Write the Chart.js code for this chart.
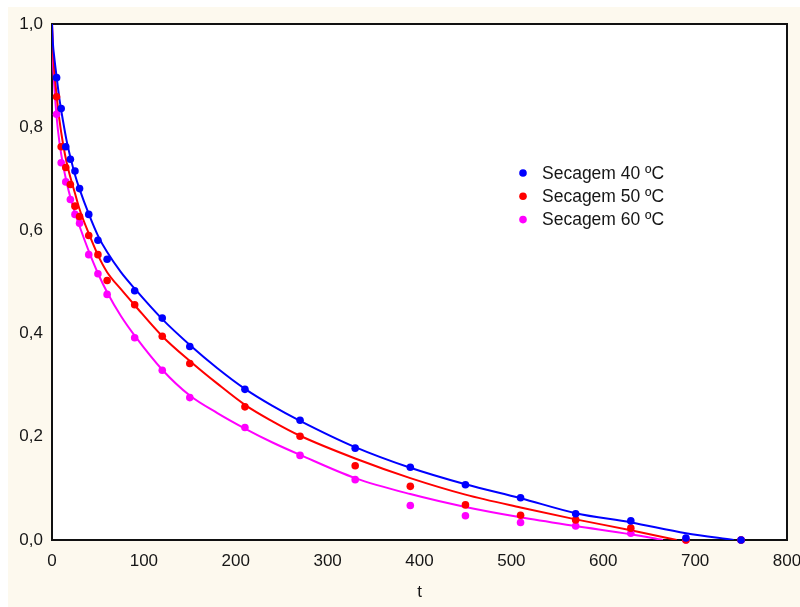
<!DOCTYPE html>
<html>
<head>
<meta charset="utf-8">
<script src="https://cdn.jsdelivr.net/npm/chart.js@4.4.1/dist/chart.umd.min.js"></script>
<style>
  html, body { margin: 0; padding: 0; background: #ffffff; }
  #wrap { width: 800px; height: 607px; }
</style>
</head>
<body>
<div id="wrap"><canvas id="c" width="800" height="607"></canvas></div>
<script>
// Drying time (t) and moisture ratio for each drying temperature
const times = [5, 10, 15, 20, 25, 30, 40, 50, 60, 90, 120, 150, 210, 270, 330, 390, 450, 510, 570, 630, 690, 750];
const mr40 = [0.896, 0.836, 0.762, 0.738, 0.715, 0.681, 0.631, 0.581, 0.544, 0.483, 0.430, 0.375, 0.292, 0.232, 0.178, 0.141, 0.107, 0.082, 0.051, 0.037, 0.004, 0.000];
const mr50 = [0.859, 0.762, 0.722, 0.689, 0.647, 0.627, 0.590, 0.553, 0.503, 0.456, 0.395, 0.342, 0.258, 0.201, 0.144, 0.104, 0.068, 0.048, 0.039, 0.023, 0.000, 0.000];
const mr60 = [0.825, 0.731, 0.694, 0.660, 0.631, 0.614, 0.553, 0.516, 0.476, 0.392, 0.329, 0.276, 0.218, 0.164, 0.117, 0.067, 0.047, 0.034, 0.027, 0.013, 0.000, 0.000];

// Fitted model curves
const fit40T = [0, 1, 2.5, 5, 8, 12, 16, 20, 25, 30, 40, 50, 60, 75, 90, 120, 150, 180, 210, 240, 270, 330, 390, 450, 510, 570, 630, 690, 742];
const fit40Y = [1.0, 0.962, 0.935, 0.898, 0.856, 0.812, 0.773, 0.742, 0.708, 0.680, 0.632, 0.590, 0.558, 0.519, 0.487, 0.428, 0.378, 0.333, 0.293, 0.260, 0.231, 0.180, 0.140, 0.108, 0.081, 0.052, 0.034, 0.013, 0.0];
const fit50T = [0, 1, 2.5, 5, 8, 12, 16, 20, 25, 30, 40, 50, 60, 75, 90, 120, 150, 180, 210, 240, 270, 330, 390, 450, 510, 570, 630, 680];
const fit50Y = [1.0, 0.950, 0.910, 0.862, 0.815, 0.768, 0.731, 0.703, 0.672, 0.641, 0.594, 0.552, 0.519, 0.486, 0.455, 0.395, 0.347, 0.303, 0.262, 0.230, 0.202, 0.158, 0.120, 0.088, 0.063, 0.040, 0.019, 0.0];
const fit60T = [0, 1, 2.5, 5, 8, 12, 16, 20, 25, 30, 40, 50, 60, 75, 90, 120, 150, 180, 210, 240, 270, 330, 390, 450, 510, 570, 630, 665];
const fit60Y = [1.0, 0.930, 0.880, 0.820, 0.772, 0.727, 0.693, 0.664, 0.634, 0.608, 0.560, 0.517, 0.480, 0.434, 0.396, 0.330, 0.280, 0.246, 0.216, 0.189, 0.165, 0.120, 0.089, 0.064, 0.044, 0.027, 0.011, 0.0];

const seriesLabels = ['Secagem 40 ºC', 'Secagem 50 ºC', 'Secagem 60 ºC'];
const seriesColors = ['#0000ff', '#ff0000', '#ff00ff'];
const xTicks = [0, 100, 200, 300, 400, 500, 600, 700, 800];
const yTicks = [0.0, 0.2, 0.4, 0.6, 0.8, 1.0];
const xTitle = 't';

const FONT = '"Liberation Sans", Arial, sans-serif';
const TEXT = '#161616';

const pts = (xs, ys) => xs.map((x, i) => ({ x: x, y: ys[i] }));

function pointSet(label, ys, color, order) {
  return {
    label: label, data: pts(times, ys), showLine: false,
    pointRadius: 3.8, pointHoverRadius: 3.8, pointBorderWidth: 0,
    backgroundColor: color, borderColor: color, clip: false, order: order,
    isMarker: true
  };
}
function curveSet(xs, ys, color, order) {
  return {
    label: '', data: pts(xs, ys), showLine: true, pointRadius: 0, pointHoverRadius: 0,
    borderColor: color, backgroundColor: color, borderWidth: 2,
    cubicInterpolationMode: 'monotone', order: order, isMarker: false
  };
}

// Page panel, plot frame and legend
const framePlugin = {
  id: 'frame',
  beforeDraw(chart) {
    const ctx = chart.ctx, a = chart.chartArea;
    ctx.save();
    ctx.fillStyle = '#ffffff';
    ctx.fillRect(0, 0, chart.width, chart.height);
    ctx.fillStyle = '#fdf9ee';
    ctx.fillRect(8, 7, chart.width - 8, chart.height - 7);
    ctx.fillStyle = '#ffffff';
    ctx.fillRect(a.left, a.top, a.right - a.left, a.bottom - a.top);
    ctx.restore();
  },
  beforeDatasetsDraw(chart) {
    const ctx = chart.ctx, a = chart.chartArea;
    ctx.save();
    ctx.strokeStyle = '#111111';
    ctx.lineWidth = 2;
    ctx.strokeRect(a.left, a.top, a.right - a.left, a.bottom - a.top);
    ctx.restore();
  },
  afterDraw(chart) {
    const ctx = chart.ctx;
    const items = chart.data.datasets.filter(d => d.isMarker).reverse();
    ctx.save();
    ctx.font = '17.5px ' + FONT;
    ctx.textBaseline = 'middle';
    ctx.textAlign = 'left';
    items.forEach((d, i) => {
      const y = 173 + i * 23.3;
      ctx.fillStyle = d.backgroundColor;
      ctx.beginPath();
      ctx.arc(523, y, 3.8, 0, Math.PI * 2);
      ctx.fill();
      ctx.fillStyle = TEXT;
      ctx.fillText(d.label, 542, y + 1);
    });
    ctx.restore();
  }
};

new Chart(document.getElementById('c'), {
  type: 'scatter',
  data: {
    datasets: [
      curveSet(fit60T, fit60Y, seriesColors[2], 6),
      curveSet(fit50T, fit50Y, seriesColors[1], 5),
      curveSet(fit40T, fit40Y, seriesColors[0], 4),
      pointSet(seriesLabels[2], mr60, seriesColors[2], 3),
      pointSet(seriesLabels[1], mr50, seriesColors[1], 2),
      pointSet(seriesLabels[0], mr40, seriesColors[0], 1)
    ]
  },
  options: {
    responsive: false,
    animation: false,
    events: [],
    layout: { padding: { top: 24, right: 0, left: 0, bottom: 0 } },
    plugins: { legend: { display: false }, tooltip: { enabled: false } },
    scales: {
      x: {
        type: 'linear', min: 0, max: 800,
        afterBuildTicks(s) { s.ticks = xTicks.map(v => ({ value: v })); },
        afterFit(s) { s.height = 67; s.paddingLeft = 0; s.paddingRight = 13; },
        grid: { display: false, drawTicks: false },
        border: { display: false },
        ticks: { padding: 11, color: TEXT, font: { family: FONT, size: 17 }, maxRotation: 0 },
        title: { display: true, text: xTitle, color: TEXT, font: { family: FONT, size: 17 }, padding: { top: 0, bottom: 4 } }
      },
      y: {
        type: 'linear', min: 0, max: 1,
        afterBuildTicks(s) { s.ticks = yTicks.map(v => ({ value: v })); },
        afterFit(s) { s.width = 52; s.paddingTop = 0; s.paddingBottom = 0; },
        grid: { display: false, drawTicks: false },
        border: { display: false },
        ticks: {
          padding: 9, color: TEXT, font: { family: FONT, size: 17 },
          callback: v => Number(v).toFixed(1).replace('.', ',')
        }
      }
    }
  },
  plugins: [framePlugin]
});
</script>
</body>
</html>
